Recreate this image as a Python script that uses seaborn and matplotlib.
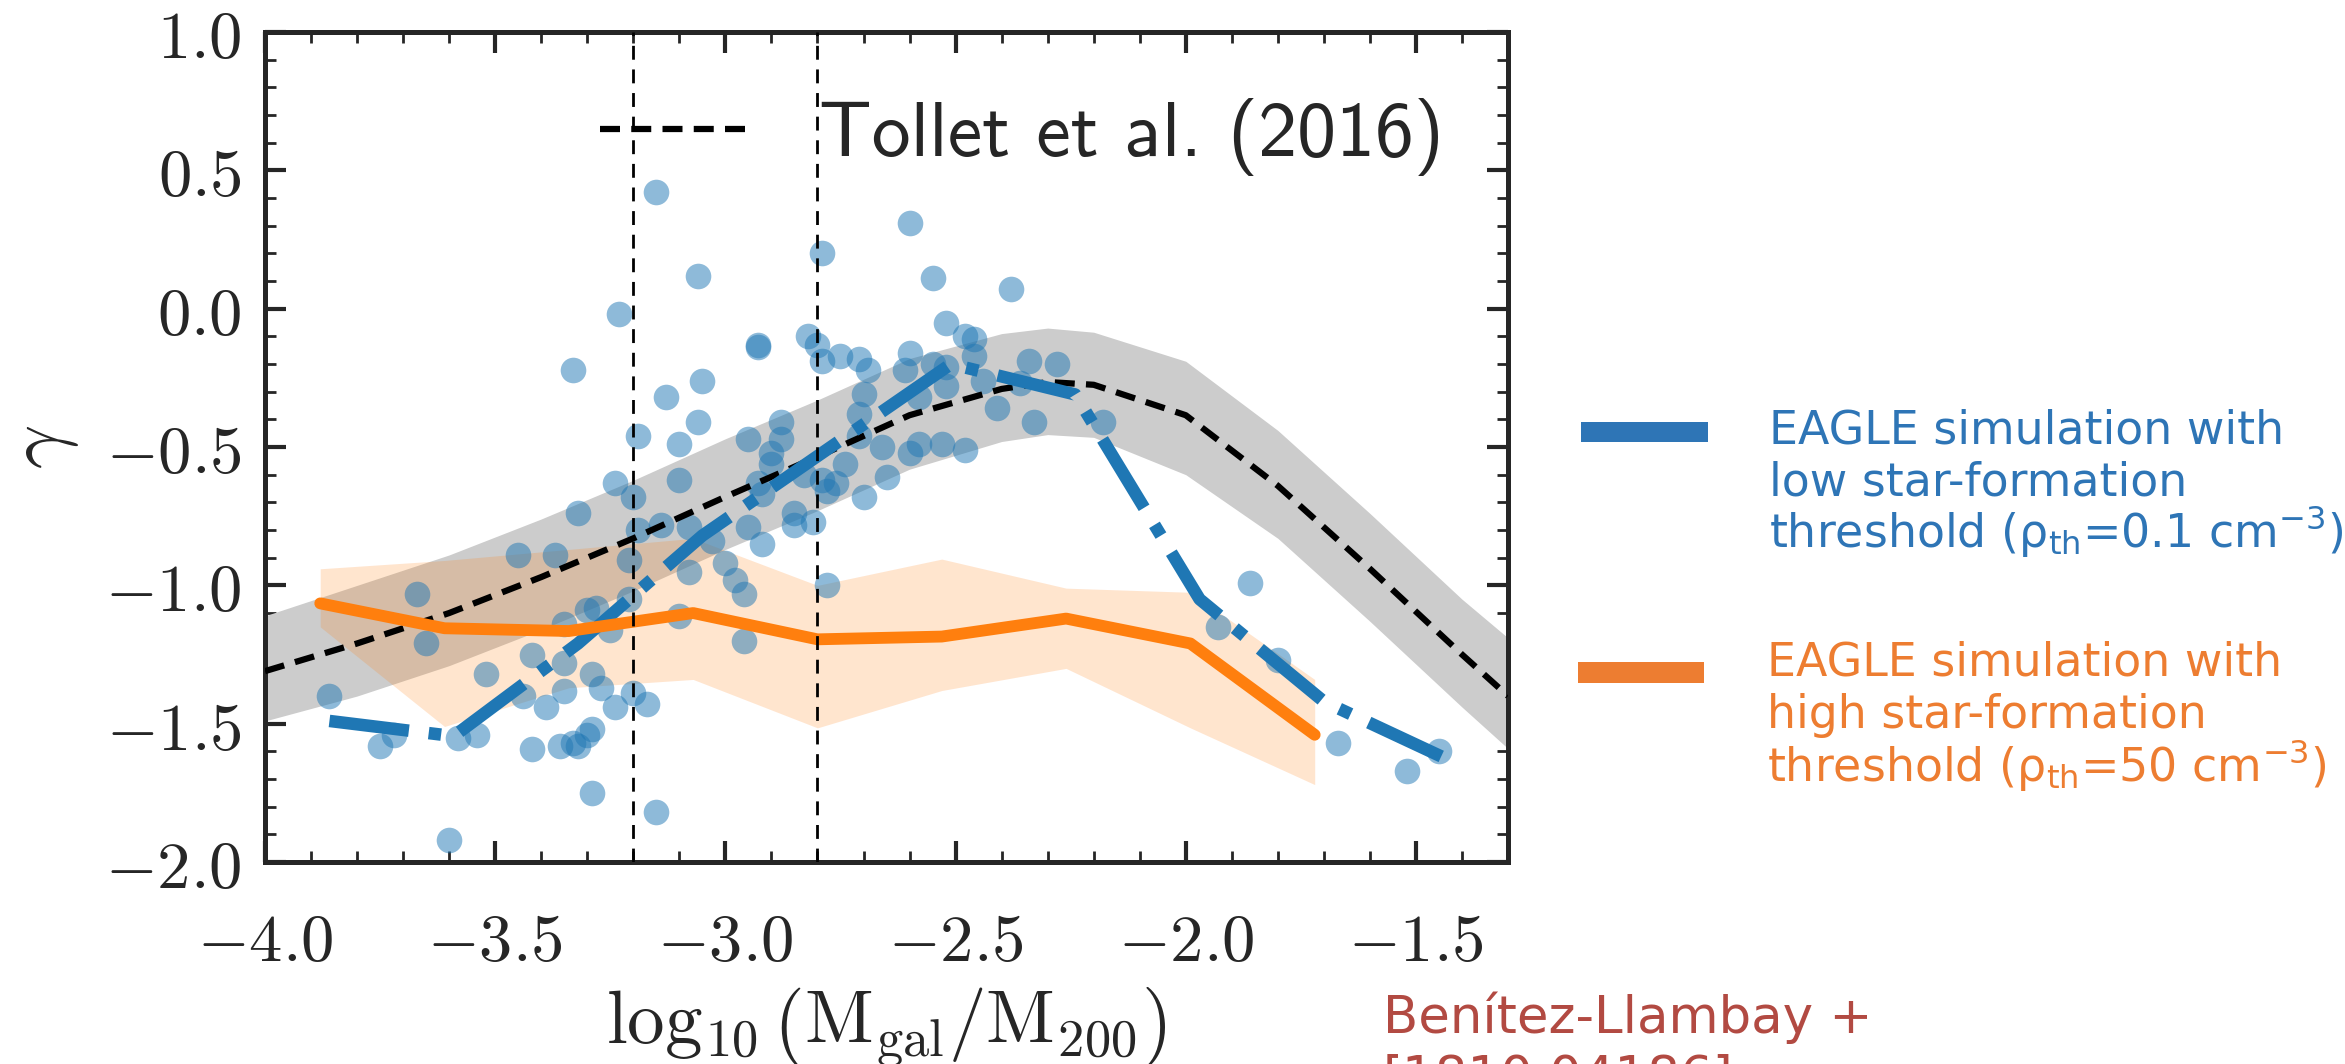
import numpy as np
import pandas as pd
import matplotlib
matplotlib.use("Agg")
import matplotlib.pyplot as plt
import matplotlib.ticker as mticker
from matplotlib.patches import Rectangle
import seaborn as sns

# --- data ---
# individual EAGLE galaxies (low threshold run)
gal_x = [-3.15, -3.23, -3.33, -3.13, -3.19, -3.10, -3.24, -3.20, -3.10,
         -3.32, -3.19, -3.14, -3.45, -3.37, -3.21, -3.67, -3.21, -3.30, -3.28,
         -3.35, -3.25, -3.10, -3.65, -3.42, -3.35, -3.52, -3.29, -3.86, -3.44,
         -3.35, -3.27, -3.20, -3.24, -3.17, -3.39, -3.29, -3.30, -3.72, -3.75,
         -3.58, -3.54, -3.42, -3.36, -3.33, -3.32, -3.29, -3.15, -3.60,
         -2.60, -2.79, -3.06, -2.55, -2.38, -3.05, -2.52, -2.48, -2.46, -2.93,
         -2.93, -2.82, -2.80, -2.79, -2.75, -2.71, -2.69, -2.60, -2.61, -2.55,
         -2.52, -2.46, -2.44, -2.52, -2.34, -2.28, -2.36, -2.70, -2.58, -2.41,
         -2.33, -2.71, -3.06, -2.95, -2.88, -2.88, -2.90, -2.71, -2.66, -2.60,
         -2.58, -2.53, -2.48, -2.74, -2.65, -2.83, -2.79, -2.76, -2.70, -2.93,
         -2.90, -2.92, -2.85, -2.85, -2.81, -2.78, -2.95, -2.92, -3.03, -3.08,
         -3.00, -3.08, -2.98, -2.96, -2.78, -2.96,
         -2.18, -1.86, -1.93, -1.80, -1.67, -1.52, -1.45]
gal_y = [0.42, -0.02, -0.22, -0.32, -0.46, -0.49, -0.63, -0.68, -0.62,
         -0.74, -0.80, -0.78, -0.89, -0.89, -0.91, -1.03, -1.05, -1.09, -1.08,
         -1.14, -1.16, -1.11, -1.21, -1.25, -1.28, -1.32, -1.32, -1.40, -1.40,
         -1.38, -1.37, -1.39, -1.44, -1.43, -1.44, -1.52, -1.54, -1.54, -1.58,
         -1.55, -1.54, -1.59, -1.58, -1.57, -1.58, -1.75, -1.82, -1.92,
         0.31, 0.20, 0.12, 0.11, 0.07, -0.26, -0.05, -0.10, -0.11, -0.13,
         -0.14, -0.10, -0.13, -0.19, -0.17, -0.18, -0.22, -0.16, -0.22, -0.20,
         -0.21, -0.17, -0.26, -0.28, -0.19, -0.20, -0.27, -0.31, -0.32, -0.36,
         -0.41, -0.38, -0.41, -0.47, -0.41, -0.47, -0.52, -0.46, -0.50, -0.52,
         -0.49, -0.49, -0.51, -0.56, -0.61, -0.60, -0.62, -0.63, -0.68, -0.63,
         -0.56, -0.67, -0.74, -0.78, -0.77, -0.66, -0.79, -0.85, -0.84, -0.79,
         -0.92, -0.95, -0.98, -1.03, -1.00, -1.20,
         -0.41, -0.99, -1.15, -1.27, -1.57, -1.67, -1.60]

# median of the low threshold run
low_x = [-3.86, -3.59, -3.32, -3.05, -2.78, -2.51, -2.24, -1.97, -1.70, -1.43]
low_y = [-1.49, -1.545, -1.21, -0.82, -0.51, -0.20, -0.31, -1.05, -1.42, -1.63]

# median and scatter of the high threshold run
high_x = [-3.88, -3.61, -3.34, -3.07, -2.80, -2.53, -2.26, -1.99, -1.72]
high_y = [-1.065, -1.155, -1.165, -1.10, -1.195, -1.185, -1.12, -1.21, -1.54]
high_lo = [-1.15, -1.51, -1.37, -1.34, -1.515, -1.38, -1.30, -1.515, -1.72]
high_hi = [-0.94, -0.91, -0.87, -0.83, -1.00, -0.905, -1.01, -1.025, -1.34]

# Tollet et al. (2016) relation and its band
tollet_x = [-4.0, -3.8, -3.6, -3.4, -3.2, -3.0, -2.8, -2.6, -2.4, -2.3, -2.2,
            -2.0, -1.8, -1.6, -1.4, -1.3]
tollet_y = [-1.31, -1.21, -1.10, -0.97, -0.83, -0.68, -0.535, -0.385, -0.29,
            -0.265, -0.275, -0.385, -0.64, -0.94, -1.25, -1.40]
tollet_hi = [-1.11, -1.00, -0.89, -0.76, -0.62, -0.47, -0.33, -0.18, -0.09,
             -0.07, -0.085, -0.19, -0.44, -0.74, -1.05, -1.19]
tollet_lo = [-1.49, -1.40, -1.29, -1.16, -1.02, -0.87, -0.73, -0.58, -0.48,
             -0.455, -0.465, -0.60, -0.83, -1.13, -1.44, -1.59]

vline_x = [-3.2, -2.8]

blue_txt = ["EAGLE simulation with", "low star-formation",
            r"threshold (ρ$_{\mathrm{th}}$=0.1 cm$^{\mathrm{-3}}$)"]
orange_txt = ["EAGLE simulation with", "high star-formation",
              r"threshold (ρ$_{\mathrm{th}}$=50 cm$^{\mathrm{-3}}$)"]

sns.set_style("ticks")
plt.rcParams["mathtext.fontset"] = "cm"
plt.rcParams["mathtext.rm"] = "DejaVu Sans"
plt.rcParams["mathtext.it"] = "DejaVu Sans:italic"
plt.rcParams["font.family"] = ["DejaVu Sans"]

fig = plt.figure(figsize=(23.45, 10.64), dpi=100)
ax = fig.add_axes([0.1130, 0.1898, 0.5301, 0.7801])

ax.fill_between(tollet_x, tollet_lo, tollet_hi, color="0.8", lw=0, zorder=1)
ax.fill_between(high_x, high_lo, high_hi, color="#ff7f0e", alpha=0.2, lw=0, zorder=1.5)

sns.scatterplot(x=gal_x, y=gal_y, color="#1f77b4", alpha=0.5, s=340,
                linewidth=0, ax=ax, zorder=3)

sns.lineplot(x=tollet_x, y=tollet_y, color="k", lw=4.5, linestyle=(0, (3.2, 1.8)),
             sort=False, estimator=None, ax=ax, zorder=4,
             label="Tollet et al. (2016)")
sns.lineplot(x=low_x, y=low_y, color="#1f77b4", lw=9, linestyle="-.",
             sort=False, estimator=None, ax=ax, zorder=4)
sns.lineplot(x=high_x, y=high_y, color="#ff7f0e", lw=8.5,
             sort=False, estimator=None, ax=ax, zorder=4)

for xv in vline_x:
    ax.axvline(xv, color="k", lw=2, linestyle=(0, (5, 3.5)), zorder=5)

ax.set_xlim(-4.0, -1.3)
ax.set_ylim(-2.0, 1.0)
ax.xaxis.set_major_locator(mticker.MultipleLocator(0.5))
ax.xaxis.set_minor_locator(mticker.MultipleLocator(0.1))
ax.yaxis.set_major_locator(mticker.MultipleLocator(0.5))
ax.yaxis.set_minor_locator(mticker.MultipleLocator(0.1))
fmt = mticker.FuncFormatter(lambda v, p: rf"${v:.1f}$")
ax.xaxis.set_major_formatter(fmt)
ax.yaxis.set_major_formatter(fmt)
ax.tick_params(which="both", direction="in", top=True, right=True)
ax.tick_params(which="major", length=15, width=3, labelsize=48)
ax.tick_params(axis="x", which="major", pad=34)
ax.tick_params(axis="y", which="major", pad=17)
ax.tick_params(which="minor", length=8, width=2)
for sp in ax.spines.values():
    sp.set_linewidth(3.6)

ax.set_xlabel(r"$\log_{10}\left(\mathrm{M_{gal}/M_{200}}\right)$", fontsize=54)
ax.set_ylabel(r"$\gamma$", fontsize=56)
ax.xaxis.set_label_coords(0.5, -0.148)
ax.xaxis.label.set_va("top")
ax.yaxis.set_label_coords(-0.148, 0.5)

ax.legend(loc="center left", bbox_to_anchor=(0.2695, 0.8735), frameon=False,
          prop={"family": ["cmss10", "DejaVu Sans"], "size": 56},
          borderpad=0, borderaxespad=0, handlelength=2.0, handletextpad=0.82)

# slide annotations on the right
W, H = 2345, 1064
fig.patches.append(Rectangle((1581 / W, 1 - 442 / H), 127 / W, 20 / H,
                             transform=fig.transFigure, color="#2E75B6", lw=0))
fig.patches.append(Rectangle((1578 / W, 1 - 683 / H), 126 / W, 21 / H,
                             transform=fig.transFigure, color="#ED7D31", lw=0))
for i, s in enumerate(blue_txt):
    fig.text(1769 / W, 1 - (443 + 52 * i) / H, s, color="#2E75B6", fontsize=33,
             family="DejaVu Sans", va="baseline", math_fontfamily="custom")
for i, s in enumerate(orange_txt):
    fig.text(1767 / W, 1 - (675 + 53 * i) / H, s, color="#ED7D31", fontsize=33,
             family="DejaVu Sans", va="baseline", math_fontfamily="custom")
fig.text(1383 / W, 1 - 1033 / H, "Benítez-Llambay +", color="#B24A42",
         fontsize=37, family="DejaVu Sans", va="baseline")
fig.text(1383 / W, 1 - 1092 / H, "[1810.04186]", color="#B24A42",
         fontsize=37, family="DejaVu Sans", va="baseline")

fig.savefig("out.png", dpi=100)
